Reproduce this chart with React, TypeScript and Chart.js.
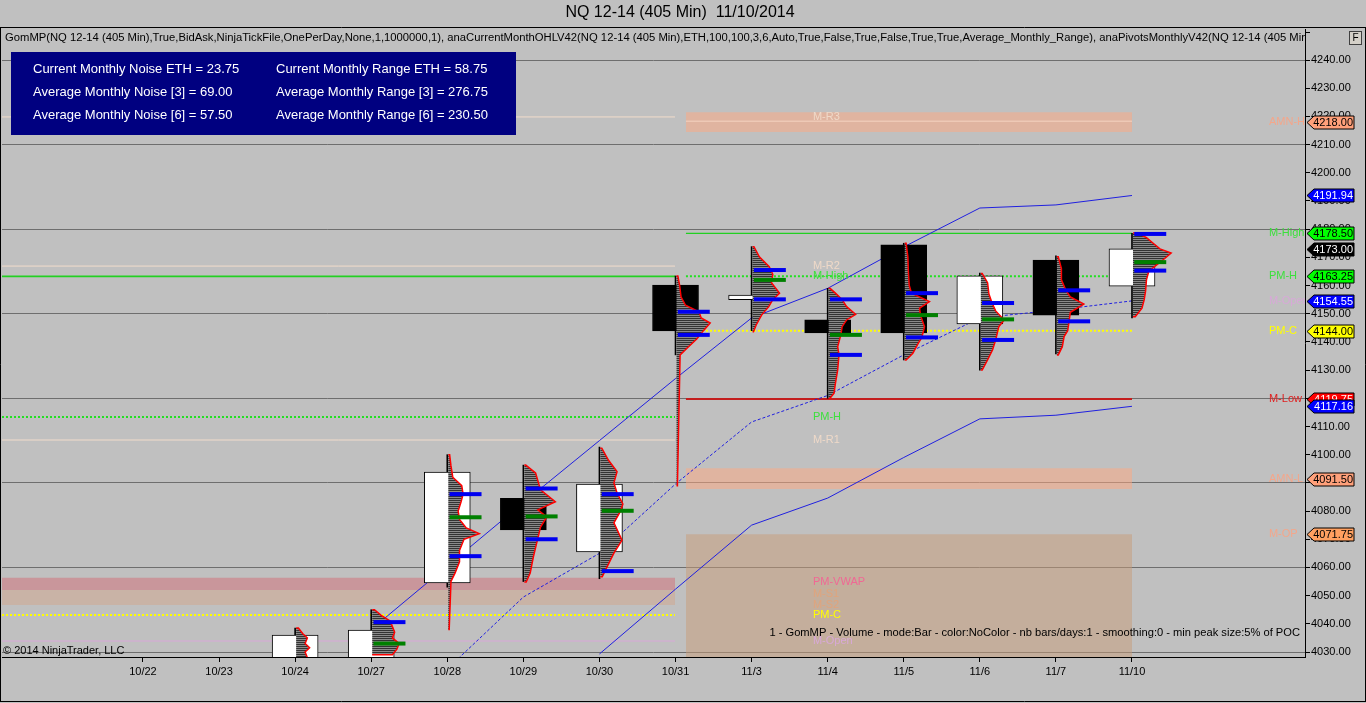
import { useEffect, useRef } from 'react';
import { Chart, registerables } from 'chart.js';

Chart.register(...registerables);

const FONT = '"Liberation Sans", Arial, Helvetica, sans-serif';

// ---------- data ----------
const dates = ['10/22', '10/23', '10/24', '10/27', '10/28', '10/29', '10/30', '10/31', '11/3', '11/4', '11/5', '11/6', '11/7', '11/10'];
const opens = [null, null, 4018, 4020, 4054.5, 4084.5, 4065.5, 4160.2, 4155.0, 4147.8, 4174.4, 4146.4, 4169.0, 4159.8];
const highs = [null, null, 4038.5, 4045, 4100, 4096.3, 4102.7, 4163.4, 4173.8, 4159, 4175, 4164.4, 4170.5, 4178.5];
const lows = [null, null, 4012, 4015, 4053, 4055, 4056, 4135.4, 4144, 4120, 4133.6, 4130, 4135.7, 4148.5];
const closes = [null, null, 4036, 4037.8, 4093.8, 4073.3, 4089.6, 4143.9, 4156.6, 4143.2, 4143.2, 4163.4, 4149.5, 4173];

const upperBand = [null, null, null, 4038, 4060.5, 4083, 4105, 4127, 4148.5, 4159, 4173.7, 4187.5, 4188.6, 4191.94];
const vwapLine = [null, null, null, null, 4024, 4049.5, 4065, 4089.6, 4111.6, 4121, 4135.4, 4148.5, 4151.3, 4154.55];
const lowerBand = [null, null, null, null, null, null, 4029.3, 4052.3, 4075, 4084.6, 4099, 4112.7, 4114, 4117.16];

const yTicks = [4030, 4040, 4050, 4060, 4070, 4080, 4090, 4100, 4110, 4120, 4130, 4140, 4150, 4160, 4170, 4180, 4190, 4200, 4210, 4220, 4230, 4240];

// volume profiles: [price, relative volume]
const prof1024 = [[4038.5, 0.05], [4036.5, 0.15], [4035, 0.25], [4033, 0.2], [4031.5, 0.3], [4030, 0.2], [4028, 0.25]];
const prof1027 = [[4045, 0.05], [4043, 0.2], [4041, 0.4], [4039, 0.45], [4037, 0.5], [4035, 0.45], [4033, 0.6], [4031, 0.55], [4029, 0.45]];
const prof1028 = [[4100, 0.03], [4096, 0.06], [4092, 0.1], [4089, 0.3], [4086, 0.33], [4083, 0.28], [4080, 0.22], [4077, 0.25], [4074, 0.4], [4072, 0.69], [4070, 0.35], [4066, 0.25], [4062, 0.25], [4058, 0.15], [4055, 0.06], [4038, 0.02]];
const prof1029 = [[4096.3, 0.03], [4093.5, 0.25], [4087.5, 0.36], [4083.3, 0.69], [4080.4, 0.3], [4077.9, 0.5], [4074.3, 0.36], [4069.7, 0.29], [4063.7, 0.2], [4058, 0.13], [4054.8, 0.04]];
const prof1030 = [[4102.3, 0.03], [4098, 0.18], [4094, 0.37], [4090, 0.3], [4086.4, 0.37], [4082.5, 0.5], [4079.8, 0.44], [4075.8, 0.3], [4069.7, 0.48], [4065.1, 0.3], [4060.3, 0.15], [4056.7, 0.04]];
const prof1031 = [[4163.4, 0.03], [4160, 0.07], [4156, 0.1], [4153, 0.2], [4150.7, 0.5], [4148.5, 0.55], [4146.7, 0.75], [4144, 0.6], [4141, 0.45], [4138, 0.25], [4135.4, 0.08], [4089, 0.02]];
const prof1103 = [[4173.8, 0.03], [4170.2, 0.15], [4166.7, 0.37], [4164, 0.45], [4161, 0.42], [4157.3, 0.6], [4155, 0.45], [4152.5, 0.36], [4149.5, 0.2], [4146, 0.08], [4143.6, 0.02]];
const prof1104 = [[4159, 0.03], [4157.3, 0.15], [4155, 0.3], [4152.5, 0.4], [4149.8, 0.6], [4147.8, 0.4], [4145.4, 0.3], [4142.5, 0.27], [4138.3, 0.2], [4135.4, 0.23], [4130, 0.2], [4125.3, 0.15], [4121.8, 0.12], [4120, 0.03]];
const prof1105 = [[4175, 0.03], [4170, 0.07], [4165, 0.08], [4160, 0.1], [4157.3, 0.15], [4154.3, 0.55], [4152, 0.33], [4149.5, 0.35], [4145.4, 0.44], [4141.6, 0.38], [4139.5, 0.3], [4136, 0.18], [4133.6, 0.03]];
const prof1106 = [[4164.3, 0.03], [4161, 0.15], [4157, 0.18], [4153.8, 0.25], [4151, 0.33], [4147.8, 0.52], [4145.4, 0.4], [4140.7, 0.33], [4137.1, 0.26], [4133.6, 0.15], [4130, 0.03]];
const prof1107 = [[4170.2, 0.03], [4166, 0.1], [4162, 0.1], [4158.3, 0.2], [4156, 0.3], [4153.4, 0.6], [4150.5, 0.3], [4147.3, 0.27], [4144, 0.24], [4141.9, 0.16], [4138.3, 0.12], [4135.4, 0.03]];
const prof1110 = [[4178.6, 0.1], [4177, 0.3], [4175, 0.45], [4173, 0.6], [4171.5, 0.85], [4169.5, 0.7], [4167, 0.5], [4165, 0.35], [4162, 0.3], [4158, 0.28], [4155, 0.25], [4152, 0.2], [4148.9, 0.05]];

const profileDays = [2, 3, 4, 5, 6, 7, 8, 9, 10, 11, 12, 13];
const profileShapes = [prof1024, prof1027, prof1028, prof1029, prof1030, prof1031, prof1103, prof1104, prof1105, prof1106, prof1107, prof1110];
const profileVAH = [null, 4040.6, 4086, 4088, 4086, 4150.7, 4165.5, 4155.1, 4157.3, 4153.8, 4158.3, 4178.3];
const profilePOC = [null, 4033, 4077.8, 4078.1, 4080.1, null, 4162, 4142.5, 4149.5, 4148, null, 4168.3];
const profileVAL = [null, null, 4064, 4070, 4058.7, 4142.5, 4155.1, 4135.4, 4141.6, 4140.7, 4147.3, 4165.3];

// monthly levels
const prevMonthSpan = [-1.853, 6.993];
const curMonthSpan = [7.137, 13];
const octR3 = 4219.8;
const octR2 = 4166.9;
const octHigh = 4163.25;
const octPrevHigh = 4113.4;
const octR1 = 4105.2;
const octPrevVwapBand = [4052.0, 4056.3];
const octS1Band = [4046.7, 4052.0];
const octPrevClose = 4043.1;
const octOpen = 4033.9;
const novR3 = 4218.3;
const novAmnHBand = [4214.5, 4221.5];
const novHigh = 4178.5;
const novPrevHigh = 4163.25;
const novPrevClose = 4144.0;
const novLow = 4119.75;
const novAmnLBand = [4087.8, 4095.2];
const novMOPBox = [4020, 4071.75];

const midLabelTexts = ['M-R3', 'M-R2', 'M-High', 'PM-H', 'M-R1', 'PM-VWAP', 'M-S1', 'M-S2', 'PM-C', 'M-Open'];
const midLabelValues = [4219.8, 4166.9, 4163.25, 4113.4, 4105.2, 4055.0, 4050.5, 4046.7, 4043.1, 4033.9];
const midLabelColors = ['#EFD9C8', '#EFD9C8', '#3CE03C', '#3CE03C', '#EFD9C8', '#F06894', '#E0A47C', '#E0A47C', '#FFFF00', '#D8A8D8'];

const rightLabelTexts = ['AMN-H', 'M-High', 'PM-H', 'M-Open', 'PM-C', 'M-Low', 'AMN-L', 'M-OP'];
const rightLabelValues = [4218.0, 4178.5, 4163.25, 4154.6, 4144.0, 4119.75, 4091.5, 4071.75];
const rightLabelColors = ['#F4A68A', '#3CE03C', '#3CE03C', '#D8A8D8', '#FFFF00', '#E01E1E', '#F4A68A', '#F4A68A'];

const tagValues = [4218.0, 4191.94, 4178.5, 4173.0, 4163.25, 4154.55, 4144.0, 4119.75, 4117.16, 4091.5, 4071.75];
const tagFills = ['#FFA07A', '#0000FF', '#00FF00', '#000000', '#00FF00', '#0000FF', '#FFFF00', '#FF0000', '#0000FF', '#FFA07A', '#FFA060'];
const tagTexts = ['#000', '#FFF', '#000', '#FFF', '#000', '#FFF', '#000', '#FFF', '#FFF', '#000', '#000'];

const infoLeft = ['Current Monthly Noise ETH = 23.75', 'Average Monthly Noise [3] = 69.00', 'Average Monthly Noise [6] = 57.50'];
const infoRight = ['Current Monthly Range ETH = 58.75', 'Average Monthly Range [3] = 276.75', 'Average Monthly Range [6] = 230.50'];

const titleText = 'NQ 12-14 (405 Min)  11/10/2014';
const headerText = 'GomMP(NQ 12-14 (405 Min),True,BidAsk,NinjaTickFile,OnePerDay,None,1,1000000,1), anaCurrentMonthOHLV42(NQ 12-14 (405 Min),ETH,100,100,3,6,Auto,True,False,True,False,True,True,Average_Monthly_Range), anaPivotsMonthlyV42(NQ 12-14 (405 Min';
const noteText = '1 - GomMP - Volume - mode:Bar - color:NoColor - nb bars/days:1 - smoothing:0 - min peak size:5% of POC';
const copyText = '\u00A9 2014 NinjaTrader, LLC';

// ---------- helpers ----------
const PROFILE_SLOT = 0.59;
const MARK_START = 0.03;
const MARK_END = 0.45;
const MID_LABEL_X = 8.806;
const RIGHT_LABEL_X = 14.8;

const seg = (range: number[], v: number) => [{ x: range[0], y: v }, { x: range[1], y: v }];

const lineDs = (data: any[], color: string, width: number, dash: number[], order: number) => ({
  type: 'line', data, borderColor: color, borderWidth: width, borderDash: dash,
  pointRadius: 0, pointHoverRadius: 0, fill: false, tension: 0, order, spanGaps: false,
});

const bandDs = (range: number[], band: number[], color: string, order: number) => ({
  type: 'line', data: seg(range, band[1]), borderColor: 'rgba(0,0,0,0)', borderWidth: 0,
  pointRadius: 0, pointHoverRadius: 0, fill: { value: band[0] }, backgroundColor: color, order,
});

const seriesPts = (arr: (number | null)[]) => arr.map((v, i) => ({ x: i, y: v }));

export default function App() {
  const ref = useRef<HTMLCanvasElement>(null);

  useEffect(() => {
    const canvas = ref.current;
    if (!canvas) return;

    const candleIdx = dates.map((_, i) => i).filter(i => opens[i] != null);
    const wickData = candleIdx.map(i => ({ x: i, y: [lows[i], highs[i]] }));
    const bodyData = candleIdx.map(i => ({ x: i, y: [Math.min(opens[i]!, closes[i]!), Math.max(opens[i]!, closes[i]!)] }));
    const bodyColors = candleIdx.map(i => (closes[i]! >= opens[i]! ? '#FFFFFF' : '#000000'));

    const datasets: any[] = [
      bandDs(curMonthSpan, novMOPBox, 'rgba(200,156,120,0.5)', 40),
      bandDs(curMonthSpan, novAmnHBand, 'rgba(255,168,128,0.5)', 40),
      bandDs(curMonthSpan, novAmnLBand, 'rgba(255,168,128,0.5)', 40),
      bandDs(prevMonthSpan, octPrevVwapBand, 'rgba(210,108,118,0.5)', 40),
      bandDs(prevMonthSpan, octS1Band, 'rgba(210,166,140,0.5)', 40),
      lineDs(seg(curMonthSpan, novR3), 'rgba(246,214,196,0.9)', 1, [], 30),
      lineDs(seg(prevMonthSpan, octR3), '#F2DCCB', 1, [], 30),
      lineDs(seg(prevMonthSpan, octR2), '#F2DCCB', 1, [], 30),
      lineDs(seg(prevMonthSpan, octR1), '#F2DCCB', 1, [], 30),
      lineDs(seg(prevMonthSpan, octHigh), '#22D022', 1.6, [], 30),
      lineDs(seg(prevMonthSpan, octPrevHigh), '#22E022', 2, [2, 2], 30),
      lineDs(seg(prevMonthSpan, octPrevClose), '#FFFF00', 2, [2, 2], 30),
      lineDs(seg(prevMonthSpan, octOpen), '#D8A8D8', 1, [], 30),
      lineDs(seg(curMonthSpan, novHigh), '#22D022', 1.4, [], 30),
      lineDs(seg(curMonthSpan, novPrevHigh), '#22E022', 2, [2, 2], 30),
      lineDs(seg(curMonthSpan, novPrevClose), '#FFFF00', 2, [2, 2], 30),
      lineDs(seg(curMonthSpan, novLow), '#C41E1E', 2, [], 30),
      lineDs(seriesPts(upperBand), '#2020E0', 1, [], 20),
      lineDs(seriesPts(vwapLine), '#2020E0', 1, [3, 2], 20),
      lineDs(seriesPts(lowerBand), '#2020E0', 1, [], 20),
      {
        type: 'bar', data: wickData, backgroundColor: '#000', borderWidth: 0,
        barThickness: 1, grouped: false, order: 6,
      },
      {
        type: 'bar', data: bodyData, backgroundColor: bodyColors, borderColor: '#000', borderWidth: 1,
        borderSkipped: false, barThickness: 46, grouped: false, order: 5,
      },
    ];

    const bgPlugin = {
      id: 'bg',
      beforeDraw(chart: any) {
        const { ctx, width, height } = chart;
        ctx.save();
        ctx.fillStyle = '#C0C0C0';
        ctx.fillRect(0, 0, width, height);
        ctx.restore();
      },
    };

    const profilePlugin = {
      id: 'profiles',
      afterDatasetsDraw(chart: any) {
        const { ctx, chartArea: a } = chart;
        const x = chart.scales.x;
        const y = chart.scales.y;
        const pc = document.createElement('canvas');
        pc.width = 1; pc.height = 2;
        const pctx = pc.getContext('2d')!;
        pctx.fillStyle = '#333333'; pctx.fillRect(0, 0, 1, 1);
        pctx.fillStyle = '#8A8A8A'; pctx.fillRect(0, 1, 1, 1);
        const pattern = ctx.createPattern(pc, 'repeat');
        ctx.save();
        ctx.beginPath();
        ctx.rect(a.left, a.top, a.right - a.left, a.bottom - a.top);
        ctx.clip();
        profileDays.forEach((d, k) => {
          const pts = profileShapes[k];
          const cx = x.getPixelForValue(d) + 1;
          const top = y.getPixelForValue(pts[0][0]);
          const bot = y.getPixelForValue(pts[pts.length - 1][0]);
          ctx.beginPath();
          ctx.moveTo(cx, top);
          pts.forEach(([p, w]) => ctx.lineTo(x.getPixelForValue(d + w * PROFILE_SLOT) + 1, y.getPixelForValue(p)));
          ctx.lineTo(cx, bot);
          ctx.closePath();
          ctx.fillStyle = pattern;
          ctx.fill();
          ctx.beginPath();
          ctx.moveTo(cx, top);
          pts.forEach(([p, w]) => ctx.lineTo(x.getPixelForValue(d + w * PROFILE_SLOT) + 1, y.getPixelForValue(p)));
          ctx.lineTo(cx, bot);
          ctx.strokeStyle = '#FF0000';
          ctx.lineWidth = 1.5;
          ctx.stroke();
          const mark = (v: number | null, color: string) => {
            if (v == null) return;
            const py = y.getPixelForValue(v);
            const x0 = x.getPixelForValue(d + MARK_START);
            const x1 = x.getPixelForValue(d + MARK_END);
            ctx.fillStyle = color;
            ctx.fillRect(x0, py - 2, x1 - x0, 4);
          };
          mark(profileVAH[k], '#0000F0');
          mark(profileVAL[k], '#0000F0');
          mark(profilePOC[k], '#008000');
        });
        ctx.restore();
      },
    };

    const overlayPlugin = {
      id: 'overlay',
      afterDraw(chart: any) {
        const { ctx, chartArea: a } = chart;
        const x = chart.scales.x;
        const y = chart.scales.y;
        ctx.save();
        ctx.textBaseline = 'middle';

        // labels in plot area
        ctx.save();
        ctx.beginPath();
        ctx.rect(a.left, a.top, a.right - a.left, a.bottom - a.top);
        ctx.clip();
        ctx.font = `11px ${FONT}`;
        ctx.textAlign = 'left';
        midLabelTexts.forEach((t, i) => {
          ctx.fillStyle = midLabelColors[i];
          ctx.fillText(t, x.getPixelForValue(MID_LABEL_X), y.getPixelForValue(midLabelValues[i]));
        });
        rightLabelTexts.forEach((t, i) => {
          ctx.fillStyle = rightLabelColors[i];
          ctx.fillText(t, x.getPixelForValue(RIGHT_LABEL_X), y.getPixelForValue(rightLabelValues[i]));
        });
        // header text
        ctx.fillStyle = '#000';
        ctx.font = `11.25px ${FONT}`;
        ctx.fillText(headerText, 5, 38);
        // note and copyright
        ctx.font = `11.15px ${FONT}`;
        ctx.textAlign = 'right';
        ctx.fillText(noteText, 1300, 633);
        ctx.font = `11px ${FONT}`;
        ctx.textAlign = 'left';
        ctx.fillText(copyText, 3, 651);
        ctx.restore();

        // info box
        ctx.fillStyle = '#000080';
        ctx.fillRect(11, 52, 505, 83);
        ctx.fillStyle = '#FFFFFF';
        ctx.font = `13px ${FONT}`;
        ctx.textAlign = 'left';
        infoLeft.forEach((t, i) => ctx.fillText(t, 33, 69 + i * 23));
        infoRight.forEach((t, i) => ctx.fillText(t, 276, 69 + i * 23));

        // title
        ctx.fillStyle = '#000';
        ctx.font = `16px ${FONT}`;
        ctx.textAlign = 'center';
        ctx.fillText(titleText, 680, 13);

        // price tags
        ctx.font = `11px ${FONT}`;
        ctx.textAlign = 'right';
        tagValues.forEach((v, i) => {
          const yc = Math.round(y.getPixelForValue(v)) + 0.5;
          const tip = a.right + 2;
          const r = a.right + 49;
          ctx.beginPath();
          ctx.moveTo(tip, yc);
          ctx.lineTo(tip + 7, yc - 6.5);
          ctx.lineTo(r, yc - 6.5);
          ctx.lineTo(r, yc + 6.5);
          ctx.lineTo(tip + 7, yc + 6.5);
          ctx.closePath();
          ctx.fillStyle = tagFills[i];
          ctx.fill();
          ctx.strokeStyle = '#000';
          ctx.lineWidth = 1;
          ctx.stroke();
          ctx.fillStyle = tagTexts[i];
          ctx.fillText(v.toFixed(2), r - 1, yc + 0.5);
        });

        // frame
        ctx.strokeStyle = '#000';
        ctx.lineWidth = 1;
        ctx.beginPath();
        ctx.moveTo(0, 27.5); ctx.lineTo(1366, 27.5);
        ctx.moveTo(0.5, 27.5); ctx.lineTo(0.5, 702);
        ctx.moveTo(0, 701.5); ctx.lineTo(1366, 701.5);
        ctx.moveTo(1365.5, 27.5); ctx.lineTo(1365.5, 702);
        ctx.moveTo(a.right + 0.5, 32.5); ctx.lineTo(a.right + 5, 32.5);
        ctx.stroke();

        // F button
        ctx.fillStyle = '#D4D0C8';
        ctx.fillRect(1350, 32, 11, 12);
        ctx.strokeStyle = '#404040';
        ctx.strokeRect(1349.5, 31.5, 12, 13);
        ctx.fillStyle = '#000';
        ctx.font = `10px ${FONT}`;
        ctx.textAlign = 'center';
        ctx.fillText('F', 1355.5, 38.5);
        ctx.restore();
      },
    };

    const chart = new Chart(canvas, {
      type: 'line',
      data: { datasets },
      options: {
        responsive: false,
        animation: false,
        events: [],
        layout: { padding: { left: 2, top: 29, right: 0, bottom: 0 } },
        plugins: { legend: { display: false }, tooltip: { enabled: false }, title: { display: false } },
        scales: {
          x: {
            type: 'linear', min: -1.853, max: 15.274, offset: false,
            afterBuildTicks: (s: any) => { s.ticks = dates.map((_, i) => ({ value: i })); },
            afterFit: (s: any) => { s.height = 46; },
            ticks: {
              callback: (v: any) => dates[Math.round(Number(v))] ?? '',
              autoSkip: false, maxRotation: 0, minRotation: 0, color: '#000',
              font: { size: 11, family: FONT }, padding: 3,
            },
            grid: { drawOnChartArea: false, drawTicks: true, tickLength: 5, tickColor: '#000', offset: false },
            border: { color: '#000', width: 1 },
          },
          y: {
            type: 'linear', position: 'right', min: 4028.23, max: 4251.0,
            afterBuildTicks: (s: any) => { s.ticks = yTicks.map(v => ({ value: v })); },
            afterFit: (s: any) => { s.width = 61; },
            ticks: {
              callback: (v: any) => Number(v).toFixed(2), color: '#000',
              font: { size: 11, family: FONT }, padding: 1, autoSkip: false,
            },
            grid: {
              color: (c: any) => (c.tick && (c.tick.value - 4030) % 30 === 0 ? '#6E6E6E' : 'rgba(0,0,0,0)'),
              tickColor: '#000', tickLength: 5, drawTicks: true,
            },
            border: { color: '#000', width: 1 },
          },
        },
      } as any,
      plugins: [bgPlugin, profilePlugin, overlayPlugin],
    } as any);

    return () => chart.destroy();
  }, []);

  return (
    <div style={{ position: 'fixed', left: 0, top: 0, width: 1366, height: 703, background: '#C0C0C0' }}>
      <canvas ref={ref} width={1366} height={703} style={{ display: 'block', width: 1366, height: 703 }} />
    </div>
  );
}
